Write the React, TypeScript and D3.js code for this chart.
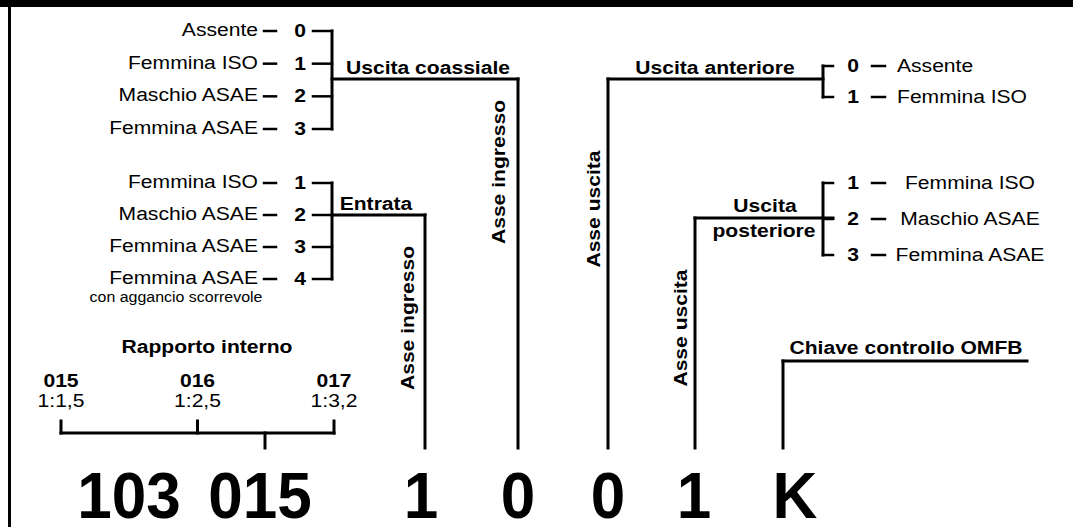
import React from "react";
import * as d3 from "d3";

// ---- data ----
const coaxCodes = ["0", "1", "2", "3"];
const coaxLabels = ["Assente", "Femmina ISO", "Maschio ASAE", "Femmina ASAE"];
const inputCodes = ["1", "2", "3", "4"];
const inputLabels = ["Femmina ISO", "Maschio ASAE", "Femmina ASAE", "Femmina ASAE"];
const inputNote = "con aggancio scorrevole";
const frontCodes = ["0", "1"];
const frontLabels = ["Assente", "Femmina ISO"];
const rearCodes = ["1", "2", "3"];
const rearLabels = ["Femmina ISO", "Maschio ASAE", "Femmina ASAE"];
const ratioCodes = ["015", "016", "017"];
const ratioValues = ["1:1,5", "1:2,5", "1:3,2"];
const codeParts = ["103", "015", "1", "0", "0", "1", "K"];
const groupTitles = {
  coax: "Uscita coassiale",
  input: "Entrata",
  front: "Uscita anteriore",
  rear: ["Uscita", "posteriore"],
  ratio: "Rapporto interno",
  key: "Chiave controllo OMFB",
};
const axisIn = "Asse ingresso";
const axisOut = "Asse uscita";

// ---- layout ----
const W = 1073;
const H = 527;
const FONT = "'Liberation Sans', Arial, Helvetica, sans-serif";
const SX = 1.11;
const LW = 3;

const codeX = d3.scaleOrdinal<number, number>().domain(d3.range(codeParts.length)).range([129, 260, 421, 518, 608, 694, 795]);
const lineBottom = 448;
const digitBase = 518;

const yCoax = d3.scalePoint<string>().domain(coaxCodes).range([31, 129]);
const yInput = d3.scalePoint<string>().domain(inputCodes).range([183, 279]);
const yFront = d3.scalePoint<string>().domain(frontCodes).range([66, 97]);
const yRear = d3.scalePoint<string>().domain(rearCodes).range([183, 255]);
const xRatio = d3.scalePoint<string>().domain(ratioCodes).range([61, 334]);

type TP = {
  x: number;
  y: number;
  size?: number;
  bold?: boolean;
  anchor?: "start" | "middle" | "end";
  sx?: number;
  rot?: number;
  children: React.ReactNode;
};
function T({ x, y, size = 19, bold = false, anchor = "start", sx = SX, rot = 0, children }: TP) {
  return (
    <text
      transform={`translate(${x},${y}) rotate(${rot}) scale(${sx},1)`}
      textAnchor={anchor}
      fontSize={size}
      fontWeight={bold ? "bold" : "normal"}
      fontFamily={FONT}
      fill="#000"
    >
      {children}
    </text>
  );
}

function L({ x1, y1, x2, y2, w = LW }: { x1: number; y1: number; x2: number; y2: number; w?: number }) {
  return <line x1={x1} y1={y1} x2={x2} y2={y2} stroke="#000" strokeWidth={w} strokeLinecap="square" />;
}

// left-side option list: label — code —|
function LeftList({ codes, labels, y }: { codes: string[]; labels: string[]; y: d3.ScalePoint<string> }) {
  return (
    <g>
      {codes.map((c, i) => {
        const yy = y(c)!;
        return (
          <g key={c + i}>
            <T x={258} y={yy + 5} anchor="end">{labels[i]}</T>
            <L x1={264} y1={yy} x2={276} y2={yy} w={2.5} />
            <T x={300} y={yy + 6} anchor="middle" bold>{c}</T>
            <L x1={313} y1={yy} x2={332} y2={yy} w={2.5} />
          </g>
        );
      })}
      <L x1={332} y1={y(codes[0])!} x2={332} y2={y(codes[codes.length - 1])!} />
    </g>
  );
}

function RightList({ codes, labels, y, labelX, anchor }: { codes: string[]; labels: string[]; y: d3.ScalePoint<string>; labelX: number; anchor: "start" | "middle" }) {
  return (
    <g>
      {codes.map((c, i) => {
        const yy = y(c)!;
        return (
          <g key={c + i}>
            <L x1={823} y1={yy} x2={833} y2={yy} w={2.5} />
            <T x={853} y={yy + 6} anchor="middle" bold>{c}</T>
            <L x1={872} y1={yy} x2={885} y2={yy} w={2.5} />
            <T x={labelX} y={yy + 6} anchor={anchor}>{labels[i]}</T>
          </g>
        );
      })}
      <L x1={823} y1={y(codes[0])!} x2={823} y2={y(codes[codes.length - 1])!} />
    </g>
  );
}

export default function App() {
  const xIn = 425;
  const xCoax = codeX(3);
  const xFront = codeX(4);
  const xRear = 695;
  const xKey = 783;
  const yTop = 79;
  const yMid = 218;
  return (
    <svg width={W} height={H} style={{ position: "absolute", left: 0, top: 0, background: "#fff" }}>
      <rect x={0} y={0} width={W} height={H} fill="#fff" />
      {/* frame */}
      <rect x={0} y={0} width={W} height={7} fill="#000" />
      <rect x={8} y={0} width={3} height={H} fill="#000" />

      {/* Uscita coassiale */}
      <LeftList codes={coaxCodes} labels={coaxLabels} y={yCoax} />
      <L x1={332} y1={yTop} x2={xCoax} y2={yTop} />
      <L x1={xCoax} y1={yTop} x2={xCoax} y2={lineBottom} />
      <T x={428} y={74} anchor="middle" bold>{groupTitles.coax}</T>
      <T x={xCoax - 13} y={172} anchor="middle" bold rot={-90}>{axisIn}</T>

      {/* Entrata */}
      <LeftList codes={inputCodes} labels={inputLabels} y={yInput} />
      <L x1={332} y1={yInput("2")!} x2={xIn} y2={yInput("2")!} />
      <L x1={xIn} y1={yInput("2")!} x2={xIn} y2={lineBottom} />
      <T x={376} y={210} anchor="middle" bold>{groupTitles.input}</T>
      <T x={xIn - 11} y={318} anchor="middle" bold rot={-90}>{axisIn}</T>
      <T x={176} y={302} anchor="middle" size={14.5} sx={1.1}>{inputNote}</T>

      {/* Rapporto interno */}
      <T x={207} y={353} anchor="middle" bold>{groupTitles.ratio}</T>
      {ratioCodes.map((c, i) => (
        <g key={c}>
          <T x={xRatio(c)!} y={387} anchor="middle" bold>{c}</T>
          <T x={xRatio(c)!} y={407} anchor="middle">{ratioValues[i]}</T>
          <L x1={xRatio(c)!} y1={421} x2={xRatio(c)!} y2={433} />
        </g>
      ))}
      <L x1={xRatio(ratioCodes[0])!} y1={433} x2={xRatio(ratioCodes[2])!} y2={433} />
      <L x1={265} y1={433} x2={265} y2={lineBottom} />

      {/* Uscita anteriore */}
      <L x1={xFront} y1={yTop} x2={823} y2={yTop} />
      <L x1={xFront} y1={yTop} x2={xFront} y2={lineBottom} />
      <T x={715} y={74} anchor="middle" bold>{groupTitles.front}</T>
      <T x={xFront - 8} y={209} anchor="middle" bold rot={-90}>{axisOut}</T>
      <RightList codes={frontCodes} labels={frontLabels} y={yFront} labelX={897} anchor="start" />

      {/* Uscita posteriore */}
      <L x1={xRear} y1={yMid} x2={833} y2={yMid} />
      <L x1={xRear} y1={yMid} x2={xRear} y2={lineBottom} />
      <T x={765} y={212} anchor="middle" bold>{groupTitles.rear[0]}</T>
      <T x={764} y={237} anchor="middle" bold>{groupTitles.rear[1]}</T>
      <T x={xRear - 8} y={328} anchor="middle" bold rot={-90}>{axisOut}</T>
      <RightList codes={rearCodes} labels={rearLabels} y={yRear} labelX={970} anchor="middle" />

      {/* Chiave controllo */}
      <L x1={xKey} y1={361} x2={1027} y2={361} />
      <L x1={xKey} y1={361} x2={xKey} y2={lineBottom} />
      <T x={906} y={354} anchor="middle" bold>{groupTitles.key}</T>

      {/* code digits */}
      {codeParts.map((p, i) => (
        <T key={i} x={codeX(i)} y={digitBase} anchor="middle" bold size={64} sx={0.97}>{p}</T>
      ))}
    </svg>
  );
}
